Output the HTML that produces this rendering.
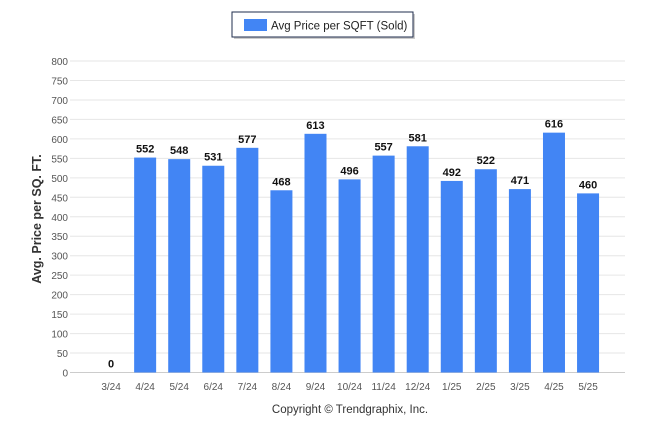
<!DOCTYPE html>
<html><head><meta charset="utf-8"><style>
body{margin:0;background:#fff;width:646px;height:434px;overflow:hidden;font-family:"Liberation Sans",sans-serif}
</style></head><body>
<svg id="chart" width="646" height="434" xmlns="http://www.w3.org/2000/svg" font-family="Liberation Sans, sans-serif">
<g>
<rect x="234" y="14" width="181" height="25" fill="#999" opacity="0.5"/>
<rect x="232" y="12" width="181" height="25" fill="#fff" stroke="#1f2d4d" stroke-width="1"/>
<rect x="244" y="19" width="23" height="12" fill="#4285f4"/>
<text x="271" y="29.5" font-size="11.5" fill="#222">Avg Price per SQFT (Sold)</text>
</g>
<g id="grid"></g>
<g id="bars"></g>
<text transform="translate(41,219) rotate(-90)" text-anchor="middle" font-size="12.5" font-weight="bold" fill="#333">Avg. Price per SQ. FT.</text>
<text x="350" y="413" text-anchor="middle" font-size="11.5" fill="#333">Copyright © Trendgraphix, Inc.</text>
</svg>
<script>
const categories=["3/24","4/24","5/24","6/24","7/24","8/24","9/24","10/24","11/24","12/24","1/25","2/25","3/25","4/25","5/25"];
const values=[0,552,548,531,577,468,613,496,557,581,492,522,471,616,460];
const yTicks=[0,50,100,150,200,250,300,350,400,450,500,550,600,650,700,750,800];
const NS="http://www.w3.org/2000/svg";
const x0=70,x1=625,y0=372.5,y1=61;
function y(v){return y0-(v/800)*(y0-y1);}
function xc(i){return 77+34.07*(i+1);}
function mk(t,a,p){const e=document.createElementNS(NS,t);for(const k in a)e.setAttribute(k,a[k]);p.appendChild(e);return e;}
const g=document.getElementById('grid'),b=document.getElementById('bars');
yTicks.forEach(v=>{
 const l=mk('line',{x1:x0,x2:x1,y1:y(v),y2:y(v),stroke:'#e6e6e6','stroke-width':1},g);
 
 
 const t=mk('text',{x:68,y:y(v)+4,'text-anchor':'end','font-size':10,fill:'#555'},g);
 t.textContent=v;
 
 
});
const ax=mk('line',{x1:x0,x2:x1,y1:y0,y2:y0,stroke:'#ccc','stroke-width':1},g);


categories.forEach((c,i)=>{
 const v=values[i],cx=xc(i);
 if(v>0){
  const r=mk('rect',{x:cx-11,y:y(v),width:22,height:y0-y(v),fill:'#4285f4'},b);
  
  
 }
 const vl=mk('text',{x:cx,y:y(v)-5,'text-anchor':'middle','font-size':11,'font-weight':'bold',fill:'#111'},b);
 vl.textContent=v;
 
 
 const tl=mk('text',{x:cx,y:390,'text-anchor':'middle','font-size':10,fill:'#555'},b);
 tl.textContent=c;
 
 
});
</script>
</body></html>
